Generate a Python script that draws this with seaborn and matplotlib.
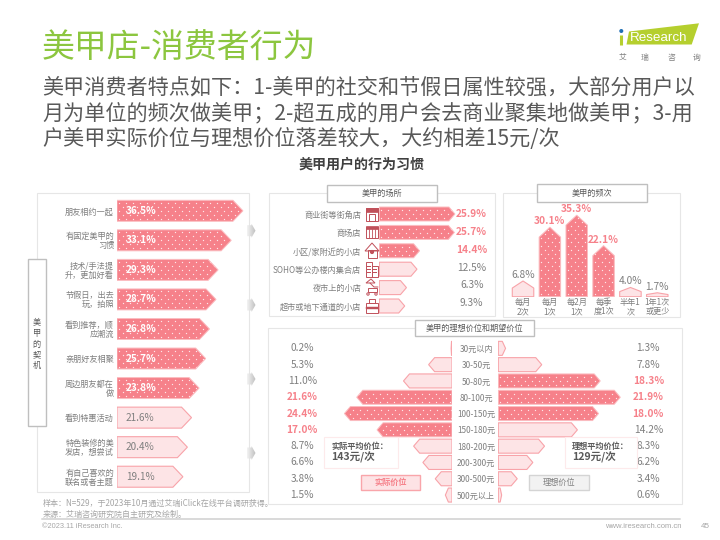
import numpy as np
import seaborn as sns
import matplotlib
matplotlib.use("Agg")
import matplotlib.pyplot as plt
from matplotlib.patches import Polygon, Rectangle, Circle
from matplotlib.colors import LinearSegmentedColormap

# ---------- data ----------
motive_cats = ["朋友相约一起", "有固定美甲的\n习惯", "技术/手法提\n升，更加好看", "节假日，出去\n玩，拍照",
               "看到推荐，顺\n应潮流", "亲朋好友相聚", "周边朋友都在\n做", "看到特惠活动",
               "特色装修的美\n发店，想尝试", "有自己喜欢的\n联名或者主题"]
motive_vals = [36.5, 33.1, 29.3, 28.7, 26.8, 25.7, 23.8, 21.6, 20.4, 19.1]
motive_top = 7

place_cats = ["商业街等街角店", "商场店", "小区/家附近的小店", "SOHO等公办楼内集合店", "夜市上的小店", "超市或地下通道的小店"]
place_vals = [25.9, 25.7, 14.4, 12.5, 6.3, 9.3]
place_drawn = [25.9, 25.7, 13.8, 12.9, 9.3, 8.7]   # lengths as they appear in the picture
place_top = 3

freq_cats = ["每月\n2次", "每月\n1次", "每2月\n1次", "每季\n度1次", "半年1\n次", "1年1次\n或更少"]
freq_vals = [6.8, 30.1, 35.3, 22.1, 4.0, 1.7]
freq_hi = [False, True, True, True, False, False]

price_cats = ["30元以内", "30-50元", "50-80元", "80-100元", "100-150元", "150-180元",
              "180-200元", "200-300元", "300-500元", "500元以上"]
actual_vals = [0.2, 5.3, 11.0, 21.6, 24.4, 17.0, 8.7, 6.6, 3.8, 1.5]
actual_hi = [False, False, False, True, True, True, False, False, False, False]
ideal_vals = [1.3, 7.8, 18.3, 21.9, 18.0, 14.2, 8.3, 6.2, 3.4, 0.6]
ideal_hi = [False, False, True, True, True, False, False, False, False, False]

title = "美甲店-消费者行为"
sub_lines = ["美甲消费者特点如下：1-美甲的社交和节假日属性较强，大部分用户以",
             "月为单位的频次做美甲；2-超五成的用户会去商业聚集地做美甲；3-用",
             "户美甲实际价位与理想价位落差较大，大约相差15元/次"]

# ---------- style ----------
sns.set_theme(style="white")
CJK = ["Noto Sans CJK SC", "DejaVu Sans"]
plt.rcParams["font.family"] = CJK
PINK, PINK_L, PINK_E = "#f6818a", "#fde4e6", "#f8a3a9"
GRAY, DARK = "#7f7f7f", "#595959"
FS = 5.9
W, H = 720, 540
fig = plt.figure(figsize=(7.2, 5.4), dpi=100, facecolor="white")


def over(z):
    a = fig.add_axes([0, 0, 1, 1], zorder=z)
    a.set_xlim(0, W); a.set_ylim(H, 0); a.axis("off"); a.patch.set_alpha(0)
    return a


back, front = over(0), over(10)


def px_axes(x0, x1, y0, y1):
    a = fig.add_axes([x0 / W, 1 - y1 / H, (x1 - x0) / W, (y1 - y0) / H], zorder=5)
    return a


def clean(a):
    a.patch.set_alpha(0)
    for s in a.spines.values():
        s.set_visible(False)
    a.set_xlabel(""); a.set_ylabel("")


def dots(a, poly):
    """Sparse white dot texture, clipped to the bar's shape."""
    a.set_autoscale_on(False)
    corners = a.transData.transform(poly.get_xy())
    x0, y0 = corners.min(axis=0)
    x1, y1 = corners.max(axis=0)
    px, py = [], []
    for r, yy in enumerate(np.arange(y0 + 2.5, y1, 4.0)):
        for xx in np.arange(x0 + 2 + (r % 2) * 3.5, x1, 7.0):
            px.append(xx); py.append(yy)
    pts = a.transData.inverted().transform(np.column_stack([px, py]))
    sc = a.scatter(pts[:, 0], pts[:, 1], s=0.9, c="#ffe8ea", linewidths=0, zorder=3)
    sc.set_clip_path(poly)


def arrows(a, hi, tip_px, horizontal=True):
    """Turn seaborn's bars into arrow-tipped shapes, keeping their data geometry."""
    a.figure.canvas.draw()
    T = a.transData
    unit = abs((T.transform((1, 1)) - T.transform((0, 0)))[0 if horizontal else 1])
    for rect, h in zip(list(a.patches), hi):
        x, y, w, ht = rect.get_x(), rect.get_y(), rect.get_width(), rect.get_height()
        rect.remove()
        L = w if horizontal else ht
        tip = min(tip_px / unit, 0.45 * L)
        if horizontal:
            pts = [(x, y), (x + L - tip, y), (x + L, y + ht / 2), (x + L - tip, y + ht), (x, y + ht)]
        else:
            pts = [(x, y), (x, y + L - tip), (x + w / 2, y + L), (x + w, y + L - tip), (x + w, y)]
        if h:
            p = Polygon(pts, facecolor=PINK, edgecolor="none", lw=0, zorder=2)
            a.add_patch(p)
            dots(a, p)
            a.add_patch(Polygon(pts, fill=False, edgecolor="#fbbcc0", lw=0.7, zorder=4))
        else:
            a.add_patch(Polygon(pts, facecolor=PINK_L, edgecolor=PINK_E, lw=0.8, zorder=3))


def frame(x0, y0, x1, y1, ec="#e6e6e6", fc="white", lw=0.8, a=back, z=1):
    a.add_patch(Rectangle((x0, y0), x1 - x0, y1 - y0, fc=fc, ec=ec, lw=lw, zorder=z))


def header(x0, y0, x1, y1, s):
    frame(x0, y0, x1, y1, ec="#bfbfbf", lw=1.0, a=front)
    front.text((x0 + x1) / 2, (y0 + y1) / 2, s, ha="center", va="center", fontsize=FS, color=DARK)


def ticktext(labels):
    for t in labels:
        t.set_fontsize(FS); t.set_color(GRAY); t.set_linespacing(1.0)


# ---------- page header ----------
back.text(41.5, 49, title, fontsize=23.7, color="#8cc63f", va="center", ha="left")
for yy, s in zip([87, 113, 139], sub_lines):
    back.text(42, yy, s, fontsize=15.2, color=DARK, va="center", ha="left")
back.text(361.5, 165, "美甲用户的行为习惯", fontsize=10.1, fontweight="bold", color="#404040", ha="center", va="center")

# logo
back.add_patch(Polygon([(629, 31.5), (699, 23.3), (691.7, 44.5), (626.5, 44.5)], fc="#b5cf2e", ec="none"))
back.add_patch(Circle((621.3, 31), 2.0, fc="#1f6fb5", ec="none"))
back.plot([621.3, 621.3], [35, 44.5], color="#b5cf2e", lw=2.2, solid_capstyle="butt")
back.text(630, 38.3, "Research", fontsize=9.6, color="white", family="Liberation Sans", ha="left", va="center")
for xx, ch in zip([623, 645, 671, 697], "艾瑞咨询"):
    back.text(xx, 57.8, ch, fontsize=5.6, color=GRAY, ha="center", va="center")

# ---------- panel 1: motives ----------
frame(37, 193, 249, 492)
frame(28, 259, 45.7, 425.7, ec="#bfbfbf", lw=1.0)
for i, ch in enumerate("美甲的契机"):
    back.text(36.8, 323 + i * 10.5, ch, fontsize=FS, color=DARK, ha="center", va="center")

ax1 = px_axes(117, 249, 196, 491.5)
sns.barplot(x=motive_vals, y=motive_cats, orient="h", width=0.71, color=PINK, errorbar=None, ax=ax1)
ax1.set_xlim(0, 132 / 3.45)
clean(ax1)
arrows(ax1, [i < motive_top for i in range(len(motive_vals))], 10)
ax1.set_xticks([])
ax1.tick_params(axis="y", length=0, pad=2.2)
ticktext(ax1.get_yticklabels())
for i, v in enumerate(motive_vals):
    hi = i < motive_top
    ax1.annotate(f"{v}%", xy=(0, i), xytext=(6.3, 0), textcoords="offset points", va="center", ha="left",
                 fontsize=7.2, color="white" if hi else GRAY, fontweight="bold" if hi else "normal", zorder=6)

# small gray connector arrows
grad = LinearSegmentedColormap.from_list("g", ["#f2f2f2", "#bfbfbf"])
for yc in [230.7, 305, 379, 453]:
    poly = Polygon([(247, yc - 5.5), (251.5, yc - 5.5), (251.5, yc - 7), (255.5, yc), (251.5, yc + 7),
                    (251.5, yc + 5.5), (247, yc + 5.5)], transform=front.transData, fc="none", ec="none")
    front.add_patch(poly)
    im = front.imshow(np.linspace(0, 1, 16).reshape(1, -1), extent=[247, 255.5, yc + 7, yc - 7],
                      cmap=grad, aspect="auto", zorder=2)
    im.set_clip_path(poly)
front.set_xlim(0, W); front.set_ylim(H, 0)

# ---------- panel 2: places ----------
frame(269, 193, 495, 316)
header(327, 185, 437, 202, "美甲的场所")
ax2 = px_axes(379.3, 495, 204.8, 315.2)
sns.barplot(x=place_drawn, y=place_cats, orient="h", width=0.76, color=PINK, errorbar=None, ax=ax2)
ax2.set_xlim(0, 115.7 / 2.92)
clean(ax2)
arrows(ax2, [i < place_top for i in range(6)], 6)
ax2.set_xticks([])
ax2.tick_params(axis="y", length=0, pad=13)
ticktext(ax2.get_yticklabels())
for i, v in enumerate(place_vals):
    hi = i < place_top
    ax2.annotate(f"{v}%", xy=(92.4 / 115.7, i), xycoords=("axes fraction", "data"),
                 xytext=(0, 0.4 * i), textcoords="offset points", ha="center", va="center", fontsize=7.3,
                 color=PINK if hi else GRAY, fontweight="bold" if hi else "normal")

# place icons (decorative outlines)
IC = "#c0505a"
kw = dict(fill=False, ec=IC, lw=0.7, zorder=3)
# 1 street shop
front.add_patch(Rectangle((366, 208), 12, 13, **kw)); front.add_patch(Rectangle((366, 208), 12, 4, fc=IC, ec=IC, lw=0.5))
front.add_patch(Rectangle((369, 214), 6, 7, **kw))
# 2 mall
front.add_patch(Rectangle((366, 227), 12, 11, **kw)); front.add_patch(Rectangle((366, 226), 12, 3, fc=IC, ec=IC, lw=0.5))
for xx in (369, 372, 375):
    front.plot([xx, xx], [229, 238], color=IC, lw=0.6)
# 3 house
front.add_patch(Polygon([(365, 251), (372, 243), (379, 251)], **kw))
front.add_patch(Rectangle((367.5, 250), 9, 7.5, **kw)); front.add_patch(Circle((372, 252), 1.4, fc=IC, ec=IC))
# 4 buildings
front.add_patch(Rectangle((366, 262), 6, 15, **kw)); front.add_patch(Rectangle((372, 266), 6, 11, **kw))
for xx in (368, 370, 374, 376):
    for yy in (266, 269, 272):
        front.add_patch(Rectangle((xx - .6, yy), 1.2, 1.4, fc=IC, ec="none"))
# 5 night market cart
front.add_patch(Polygon([(366, 283), (371, 279), (375, 283)], **kw))
front.plot([370, 374, 378], [283, 287, 287], color=IC, lw=0.7)
front.add_patch(Rectangle((368, 288), 9, 4, **kw))
front.add_patch(Circle((368, 294), 1.2, **kw)); front.add_patch(Circle((376, 294), 1.2, **kw))
# 6 kiosk
front.add_patch(Rectangle((366, 303), 12, 10, **kw)); front.add_patch(Rectangle((369, 299), 6, 4, **kw))
front.add_patch(Rectangle((366, 307), 12, 1.5, fc=IC, ec=IC, lw=0.3))

# ---------- panel 3: frequency ----------
frame(503, 192.7, 680, 316.7)
header(537, 184, 647, 202, "美甲的频次")
PX3 = 2.31
ax3 = px_axes(509.6, 670.7, 191, 296.7)
sns.barplot(x=freq_cats, y=freq_vals, width=0.8, color=PINK, errorbar=None, ax=ax3)
ax3.set_ylim(0, 105.7 / PX3); ax3.set_xlim(-0.5, 5.5)
clean(ax3)
arrows(ax3, freq_hi, 10, horizontal=False)
ax3.set_yticks([])
ax3.tick_params(axis="x", length=0, pad=1.2)
ticktext(ax3.get_xticklabels())
for i, (v, h) in enumerate(zip(freq_vals, freq_hi)):
    ax3.annotate(f"{v:.1f}%", xy=(i, v), xytext=(0, 4.3), textcoords="offset points", ha="center", va="center",
                 fontsize=7.3, color=PINK if h else GRAY, fontweight="bold" if h else "normal")

# ---------- panel 4: price ----------
frame(268.3, 328.3, 681.7, 504.3)
header(415, 320, 534, 336, "美甲的理想价位和期望价位")
ax4 = px_axes(270, 452, 340.2, 503.2)
sns.barplot(x=actual_vals, y=price_cats, orient="h", width=0.86, color=PINK, errorbar=None, ax=ax4)
ax4.set_xlim(182 / 4.41, 0)
clean(ax4)
arrows(ax4, actual_hi, 6)
ax4.set_xticks([]); ax4.set_yticks([])

ax5 = px_axes(498.3, 680, 340.2, 503.2)
sns.barplot(x=ideal_vals, y=price_cats, orient="h", width=0.86, color=PINK, errorbar=None, ax=ax5)
ax5.set_xlim(0, 181.7 / 5.57)
clean(ax5)
arrows(ax5, ideal_hi, 6)
ax5.set_xticks([])
ax5.tick_params(axis="y", length=0, pad=16)
ticktext(ax5.get_yticklabels())
for t in ax5.get_yticklabels():
    t.set_ha("center")

for a, vals, hi, frac in [(ax4, actual_vals, actual_hi, (302.3 - 270) / 182),
                          (ax5, ideal_vals, ideal_hi, (648.3 - 498.3) / 181.7)]:
    for i, (v, h) in enumerate(zip(vals, hi)):
        a.annotate(f"{v:.1f}%", xy=(frac, i), xycoords=("axes fraction", "data"), ha="center", va="center",
                   fontsize=7.3, color=PINK if h else GRAY, fontweight="bold" if h else "normal")

# callouts
for x0, x1, lab, val, bx0, bx1, bfc, bec, bt, btc in [
    (324.3, 398.3, "实际平均价位：", "143元/次", 361, 419.7, "#fde3e5", "#f9a5aa", "实际价位", PINK),
    (564.7, 636.5, "理想平均价位：", "129元/次", 529.3, 588.7, "#f2f2f2", "#d4d4d4", "理想价位", GRAY)]:
    frame(x0, 436.7, x1, 468.3, ec="#fdeaeb", lw=0.8, a=front, z=2)
    front.text(x0 + 7.3, 446.7, lab, fontsize=FS, fontweight="bold", color=DARK, va="center", ha="left", zorder=3)
    front.text(x0 + 7.3, 457.5, val, fontsize=7.6, fontweight="bold", color=DARK, va="center", ha="left", zorder=3)
    frame(bx0, 475.3, bx1, 490, ec=bec, fc=bfc, lw=1.0, a=front, z=2)
    front.text((bx0 + bx1) / 2, 482.8, bt, fontsize=FS, fontweight="bold" if btc == PINK else "normal",
               color=btc, ha="center", va="center", zorder=3)

# ---------- footer ----------
FOOT = "#a6a6a6"
front.text(43, 503.3, "样本：N=529，于2023年10月通过艾瑞iClick在线平台调研获得。", fontsize=5.8, color=FOOT, va="center", ha="left")
front.text(43, 514, "来源：艾瑞咨询研究院自主研究及绘制。", fontsize=5.8, color=FOOT, va="center", ha="left")
back.plot([42, 680], [519, 519], color="#d9d9d9", lw=1.4)
back.text(42, 526.5, "©2023.11 iResearch Inc.", fontsize=5.3, color=FOOT, family="Liberation Sans", va="center", ha="left")
back.text(681.7, 526.5, "www.iresearch.com.cn", fontsize=5.5, color=FOOT, family="Liberation Sans", va="center", ha="right")
back.text(705.7, 526.5, "45", fontsize=5.8, color=FOOT, family="Liberation Sans", va="center", ha="center")

fig.savefig("out.png", dpi=100)
